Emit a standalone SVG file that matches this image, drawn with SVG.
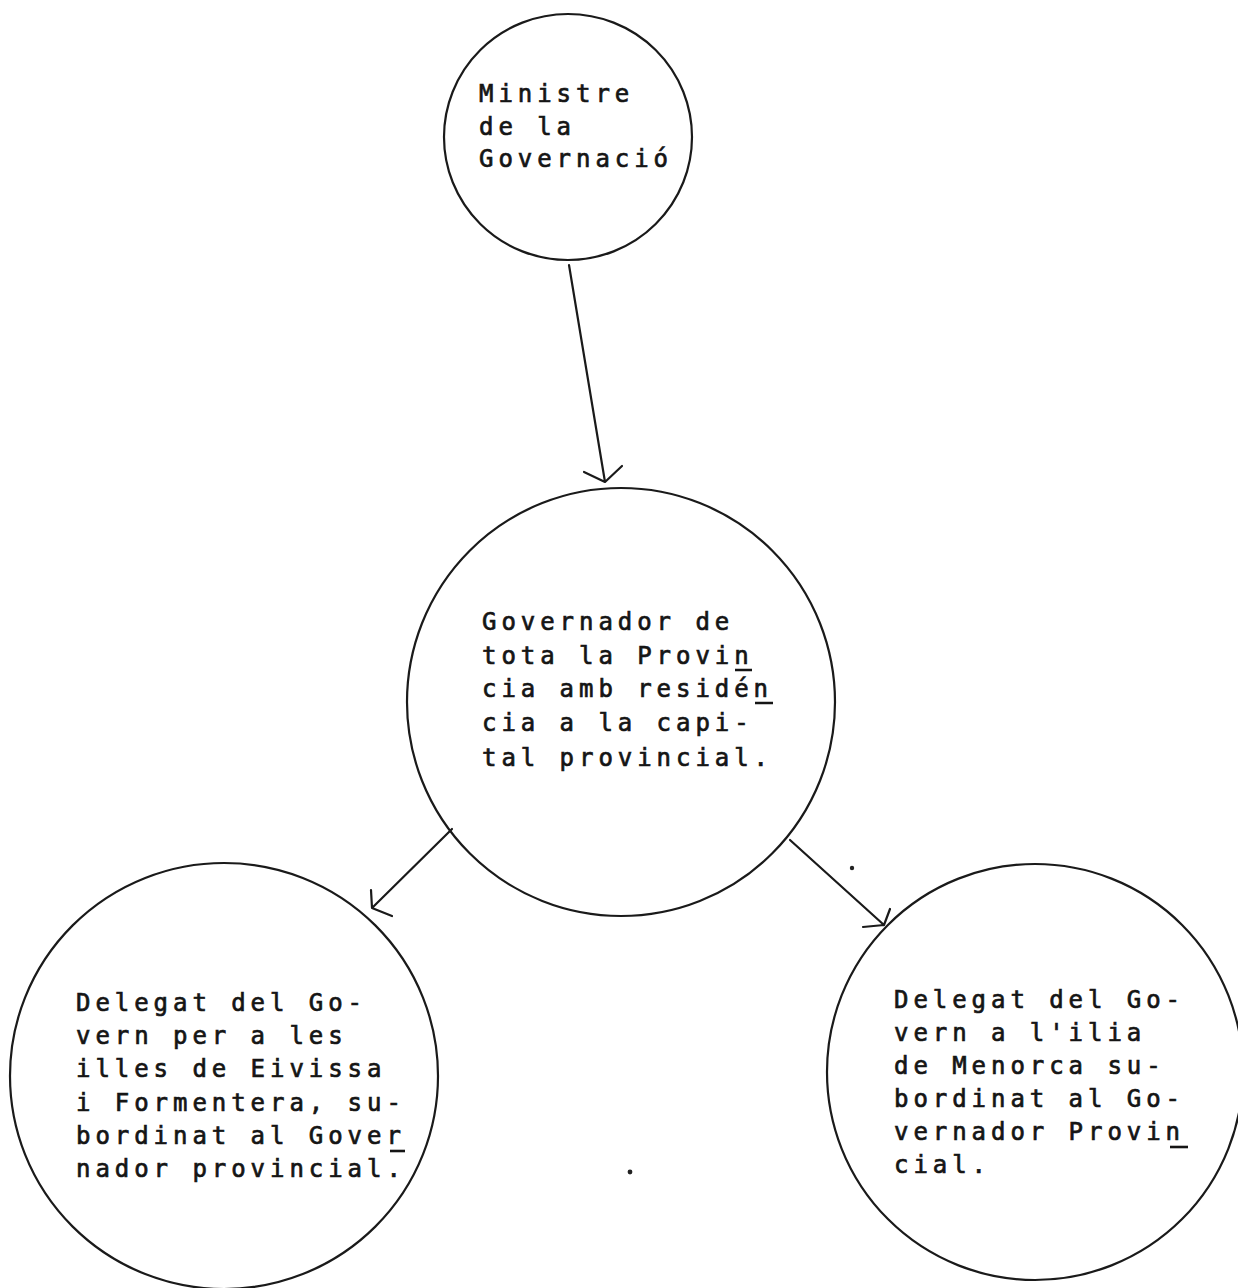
<svg xmlns="http://www.w3.org/2000/svg" width="1238" height="1288" viewBox="0 0 1238 1288">
<style>
.node{fill:none;stroke:#1a1a1a;stroke-width:2.2}
.t{font-family:"DejaVu Sans Mono","Liberation Mono",monospace;font-size:24px;letter-spacing:4.95px;fill:#151515;stroke:#151515;stroke-width:0.7px}
.c{fill:none;stroke:#1a1a1a;stroke-width:2.2;stroke-linecap:round;stroke-linejoin:round}
.u{fill:none;stroke:#151515;stroke-width:2.6;stroke-linecap:butt}
</style>
<rect width="1238" height="1288" fill="#fff"/>
<g id="connectors">
<path class="c" d="M569,265 L605,482 M584,472 L605,482 L622,466"/>
<path class="c" d="M452,829 L372,908 M371,890 L372,908 L392,916"/>
<path class="c" d="M790,840 L884,925 M890,909 L884,925 L863,927"/>
</g>
<g id="ministre">
<ellipse class="node" cx="568" cy="137" rx="124" ry="123"/>
<text class="t" x="479" y="102">Ministre</text>
<text class="t" x="479" y="135">de la</text>
<text class="t" x="479" y="167">Governació</text>
</g>
<g id="governador">
<circle class="node" cx="621" cy="702" r="214"/>
<text class="t" x="482" y="630">Governador de</text>
<text class="t" x="482" y="664">tota la Provin</text>
<text class="t" x="482" y="697">cia amb residén</text>
<text class="t" x="482" y="731">cia a la capi-</text>
<text class="t" x="482" y="766">tal provincial.</text>
<path class="u" d="M735,670 H752 M755,703 H773"/>
</g>
<g id="delegat-eivissa">
<ellipse class="node" cx="224" cy="1076" rx="214" ry="213"/>
<text class="t" x="76" y="1011">Delegat del Go-</text>
<text class="t" x="76" y="1044">vern per a les</text>
<text class="t" x="76" y="1077">illes de Eivissa</text>
<text class="t" x="76" y="1111">i Formentera, su-</text>
<text class="t" x="76" y="1144">bordinat al Gover</text>
<text class="t" x="76" y="1177">nador provincial.</text>
<path class="u" d="M390,1151 H405"/>
</g>
<g id="delegat-menorca">
<circle class="node" cx="1035" cy="1072" r="208"/>
<text class="t" x="894" y="1008">Delegat del Go-</text>
<text class="t" x="894" y="1041">vern a l'ilia</text>
<text class="t" x="894" y="1074">de Menorca su-</text>
<text class="t" x="894" y="1107">bordinat al Go-</text>
<text class="t" x="894" y="1140">vernador Provin</text>
<text class="t" x="894" y="1173">cial.</text>
<path class="u" d="M1170,1147 H1188"/>
</g>
<circle cx="852" cy="868" r="2.2" fill="#222"/>
<circle cx="630" cy="1172" r="2.4" fill="#222"/>
</svg>
